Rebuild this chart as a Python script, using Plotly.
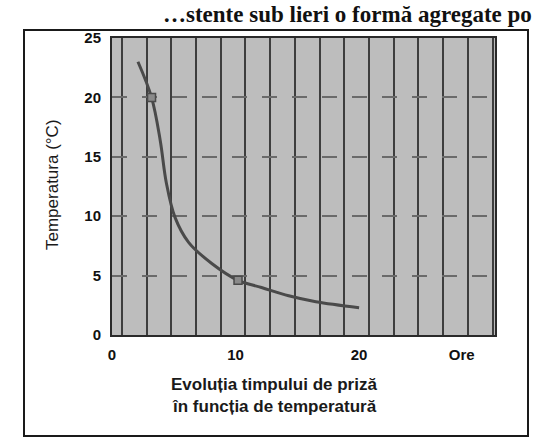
import plotly.graph_objects as go

# Data
hours = [2.1, 3.2, 3.9, 4.4, 5.1, 6.2, 8.1, 10.2, 12.1, 14.3, 16.5, 20.0]
temperature = [23.0, 20.0, 16.4, 12.8, 9.9, 7.8, 6.0, 4.6, 4.0, 3.3, 2.8, 2.3]
marker_hours = [3.2, 10.2]
marker_temps = [20.0, 4.6]
x_tick_vals = [0, 10, 20, 28.3]
x_tick_text = ["0", "10", "20", "Ore"]
y_tick_vals = [0, 5, 10, 15, 20, 25]

FONT = "Liberation Sans"
W, H = 537, 446
L, R, T, B = 112, 42, 38, 111
pw, ph = W - L - R, H - T - B


def px(x):
    return (x - L) / pw


def py(y):
    return (H - B - y) / ph


fig = go.Figure()
fig.add_trace(go.Scatter(
    x=hours, y=temperature, mode="lines",
    line=dict(color="#4a4a4a", width=3, shape="spline", smoothing=1.0),
    hoverinfo="skip", showlegend=False,
))
fig.add_trace(go.Scatter(
    x=marker_hours, y=marker_temps, mode="markers",
    marker=dict(symbol="square", size=8, color="#8a8a8a",
                line=dict(color="#4a4a4a", width=1.5)),
    hoverinfo="skip", showlegend=False,
))

fig.update_layout(
    width=W, height=H,
    margin=dict(l=L, r=R, t=T, b=B),
    paper_bgcolor="white",
    plot_bgcolor="#bdbdbd",
    font=dict(family=FONT, color="#1a1a1a"),
    xaxis=dict(
        range=[0, 31], tickmode="array", tickvals=x_tick_vals, ticktext=x_tick_text,
        showgrid=False, zeroline=False,
        showline=True, mirror=True, linecolor="#2a2a2a", linewidth=2,
        ticks="outside", ticklen=5, tickcolor="rgba(0,0,0,0)",
        tickfont=dict(family=FONT, size=15, color="#111", weight="bold"),
        minor=dict(tickmode="linear", tick0=0.8, dtick=2, showgrid=True,
                   gridcolor="#3e3e3e", gridwidth=1.5, ticks=""),
    ),
    yaxis=dict(
        range=[0, 25], tickmode="array", tickvals=y_tick_vals,
        showgrid=True, gridcolor="#6a6a6a", gridwidth=1.5, griddash="longdash",
        zeroline=False,
        showline=True, mirror=True, linecolor="#2a2a2a", linewidth=2,
        ticks="outside", ticklen=6, tickcolor="rgba(0,0,0,0)",
        tickfont=dict(family=FONT, size=15, color="#111", weight="bold"),
    ),
    annotations=[
        dict(text="Temperatura (°C)", textangle=-90, x=px(52), y=py(185),
             xref="paper", yref="paper", xanchor="center", yanchor="middle",
             showarrow=False, font=dict(family=FONT, size=17, color="#1a1a1a")),
        dict(text="Evoluția timpului de priză", x=px(274), y=py(385),
             xref="paper", yref="paper", xanchor="center", yanchor="middle",
             showarrow=False, font=dict(family=FONT, size=17, color="#1a1a1a", weight="bold")),
        dict(text="în funcția de temperatură", x=px(274), y=py(406),
             xref="paper", yref="paper", xanchor="center", yanchor="middle",
             showarrow=False, font=dict(family=FONT, size=17, color="#1a1a1a", weight="bold")),
        dict(text="…stente sub lieri o formă agregate po", x=px(534), y=py(29),
             xref="paper", yref="paper", xanchor="right", yanchor="bottom",
             showarrow=False,
             font=dict(family="Liberation Serif", size=23, color="#111", weight="bold")),
    ],
)

# outer frame of the figure
fig.add_shape(type="rect", xref="paper", yref="paper",
              x0=px(24), x1=px(528), y0=py(436), y1=py(30),
              line=dict(color="#1a1a1a", width=2), layer="below")

fig.write_html("out.html", config={"displayModeBar": False},
               post_script="document.body.style.margin='0';document.body.style.padding='0';")
